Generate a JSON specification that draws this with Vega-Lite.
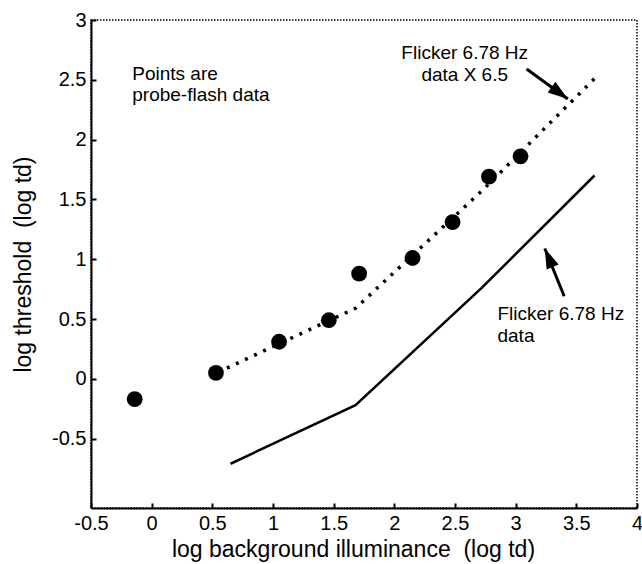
{
  "$schema": "https://vega.github.io/schema/vega-lite/v6.json",
  "width": 546,
  "height": 488,
  "autosize": {"type": "none"},
  "padding": {"left": 91, "top": 20, "right": 5, "bottom": 56},
  "background": "white",
  "config": {
    "font": "Liberation Sans",
    "view": {"stroke": "black", "strokeWidth": 1.5, "strokeDash": [1.5, 1.5]}
  },
  "datasets": {
    "probe": [
      {"x": -0.14, "y": -0.17},
      {"x": 0.53, "y": 0.05},
      {"x": 1.05, "y": 0.31},
      {"x": 1.46, "y": 0.49},
      {"x": 1.71, "y": 0.88},
      {"x": 2.15, "y": 1.01},
      {"x": 2.48, "y": 1.31},
      {"x": 2.78, "y": 1.69},
      {"x": 3.04, "y": 1.86}
    ],
    "curves": [
      {"series": "flicker", "x": 0.65, "y": -0.71},
      {"series": "flicker", "x": 1.68, "y": -0.22},
      {"series": "flicker", "x": 2.72, "y": 0.76},
      {"series": "flicker", "x": 3.65, "y": 1.70},
      {"series": "scaled", "x": 0.62, "y": 0.09},
      {"series": "scaled", "x": 1.68, "y": 0.59},
      {"series": "scaled", "x": 2.72, "y": 1.57},
      {"series": "scaled", "x": 3.65, "y": 2.51}
    ],
    "arrows": [
      {"arrow": "a1", "x": 3.09, "y": 2.59, "x2": 3.43, "y2": 2.34},
      {"arrow": "a2", "x": 3.40, "y": 0.69, "x2": 3.24, "y2": 1.09}
    ],
    "notesLeft": [
      {"x": -0.16, "y": 2.55, "text": "Points are"},
      {"x": -0.16, "y": 2.37, "text": "probe-flash data"},
      {"x": 2.85, "y": 0.54, "text": "Flicker 6.78 Hz"},
      {"x": 2.85, "y": 0.36, "text": "data"}
    ],
    "notesCenter": [
      {"x": 2.58, "y": 2.72, "text": "Flicker 6.78 Hz"},
      {"x": 2.58, "y": 2.54, "text": "data X 6.5"}
    ]
  },
  "layer": [
    {
      "data": {"name": "curves"},
      "transform": [{"filter": "datum.series == 'flicker'"}],
      "mark": {"type": "line", "color": "black", "strokeWidth": 2.5},
      "encoding": {
        "x": {
          "field": "x", "type": "quantitative",
          "scale": {"domain": [-0.5, 4], "nice": false, "zero": false},
          "axis": {
            "values": [-0.5, 0, 0.5, 1, 1.5, 2, 2.5, 3, 3.5, 4],
            "labelExpr": "toString(datum.value)",
            "labelFlush": false, "labelOverlap": false, "labelBound": false,
            "grid": false,
            "domainColor": "black", "domainWidth": 2,
            "tickColor": "black", "tickWidth": 2, "tickSize": -5,
            "labelFontSize": 20, "labelColor": "black", "labelPadding": 10,
            "title": "log background illuminance \u00a0(log td)",
            "titleX": 262,
            "titleFontSize": 23, "titleFontWeight": "normal", "titleColor": "black", "titlePadding": 5
          }
        },
        "y": {
          "field": "y", "type": "quantitative",
          "scale": {"domain": [-1.08, 3], "nice": false, "zero": false},
          "axis": {
            "values": [-0.5, 0, 0.5, 1, 1.5, 2, 2.5, 3],
            "labelExpr": "toString(datum.value)",
            "labelFlush": false, "labelOverlap": false, "labelBound": false,
            "grid": false,
            "domainColor": "black", "domainWidth": 2,
            "tickColor": "black", "tickWidth": 2, "tickSize": -5,
            "labelFontSize": 20, "labelColor": "black", "labelPadding": 10,
            "title": "log threshold \u00a0(log td)",
            "titleFontSize": 23, "titleFontWeight": "normal", "titleColor": "black", "titlePadding": 16
          }
        }
      }
    },
    {
      "data": {"name": "curves"},
      "transform": [{"filter": "datum.series == 'scaled'"}],
      "mark": {"type": "line", "color": "black", "strokeWidth": 3.5, "strokeDash": [3, 7]},
      "encoding": {
        "x": {"field": "x", "type": "quantitative"},
        "y": {"field": "y", "type": "quantitative"}
      }
    },
    {
      "data": {"name": "probe"},
      "mark": {"type": "point", "filled": true, "color": "black", "opacity": 1, "size": 250},
      "encoding": {
        "x": {"field": "x", "type": "quantitative"},
        "y": {"field": "y", "type": "quantitative"}
      }
    },
    {
      "data": {"name": "arrows"},
      "mark": {"type": "rule", "color": "black", "strokeWidth": 3},
      "encoding": {
        "x": {"field": "x", "type": "quantitative"},
        "y": {"field": "y", "type": "quantitative"},
        "x2": {"field": "x2"},
        "y2": {"field": "y2"}
      }
    },
    {
      "data": {"name": "arrows"},
      "transform": [{"filter": "datum.arrow == 'a1'"}],
      "mark": {"type": "point", "filled": true, "color": "black", "opacity": 1, "size": 240, "shape": "M0,0L-0.85,2.6L0.85,2.6Z", "angle": 126},
      "encoding": {
        "x": {"field": "x2", "type": "quantitative"},
        "y": {"field": "y2", "type": "quantitative"}
      }
    },
    {
      "data": {"name": "arrows"},
      "transform": [{"filter": "datum.arrow == 'a2'"}],
      "mark": {"type": "point", "filled": true, "color": "black", "opacity": 1, "size": 240, "shape": "M0,0L-0.85,2.6L0.85,2.6Z", "angle": 337},
      "encoding": {
        "x": {"field": "x2", "type": "quantitative"},
        "y": {"field": "y2", "type": "quantitative"}
      }
    },
    {
      "data": {"name": "notesLeft"},
      "mark": {"type": "text", "align": "left", "baseline": "middle", "fontSize": 19, "color": "black"},
      "encoding": {
        "x": {"field": "x", "type": "quantitative"},
        "y": {"field": "y", "type": "quantitative"},
        "text": {"field": "text"}
      }
    },
    {
      "data": {"name": "notesCenter"},
      "mark": {"type": "text", "align": "center", "baseline": "middle", "fontSize": 19, "color": "black"},
      "encoding": {
        "x": {"field": "x", "type": "quantitative"},
        "y": {"field": "y", "type": "quantitative"},
        "text": {"field": "text"}
      }
    }
  ]
}
